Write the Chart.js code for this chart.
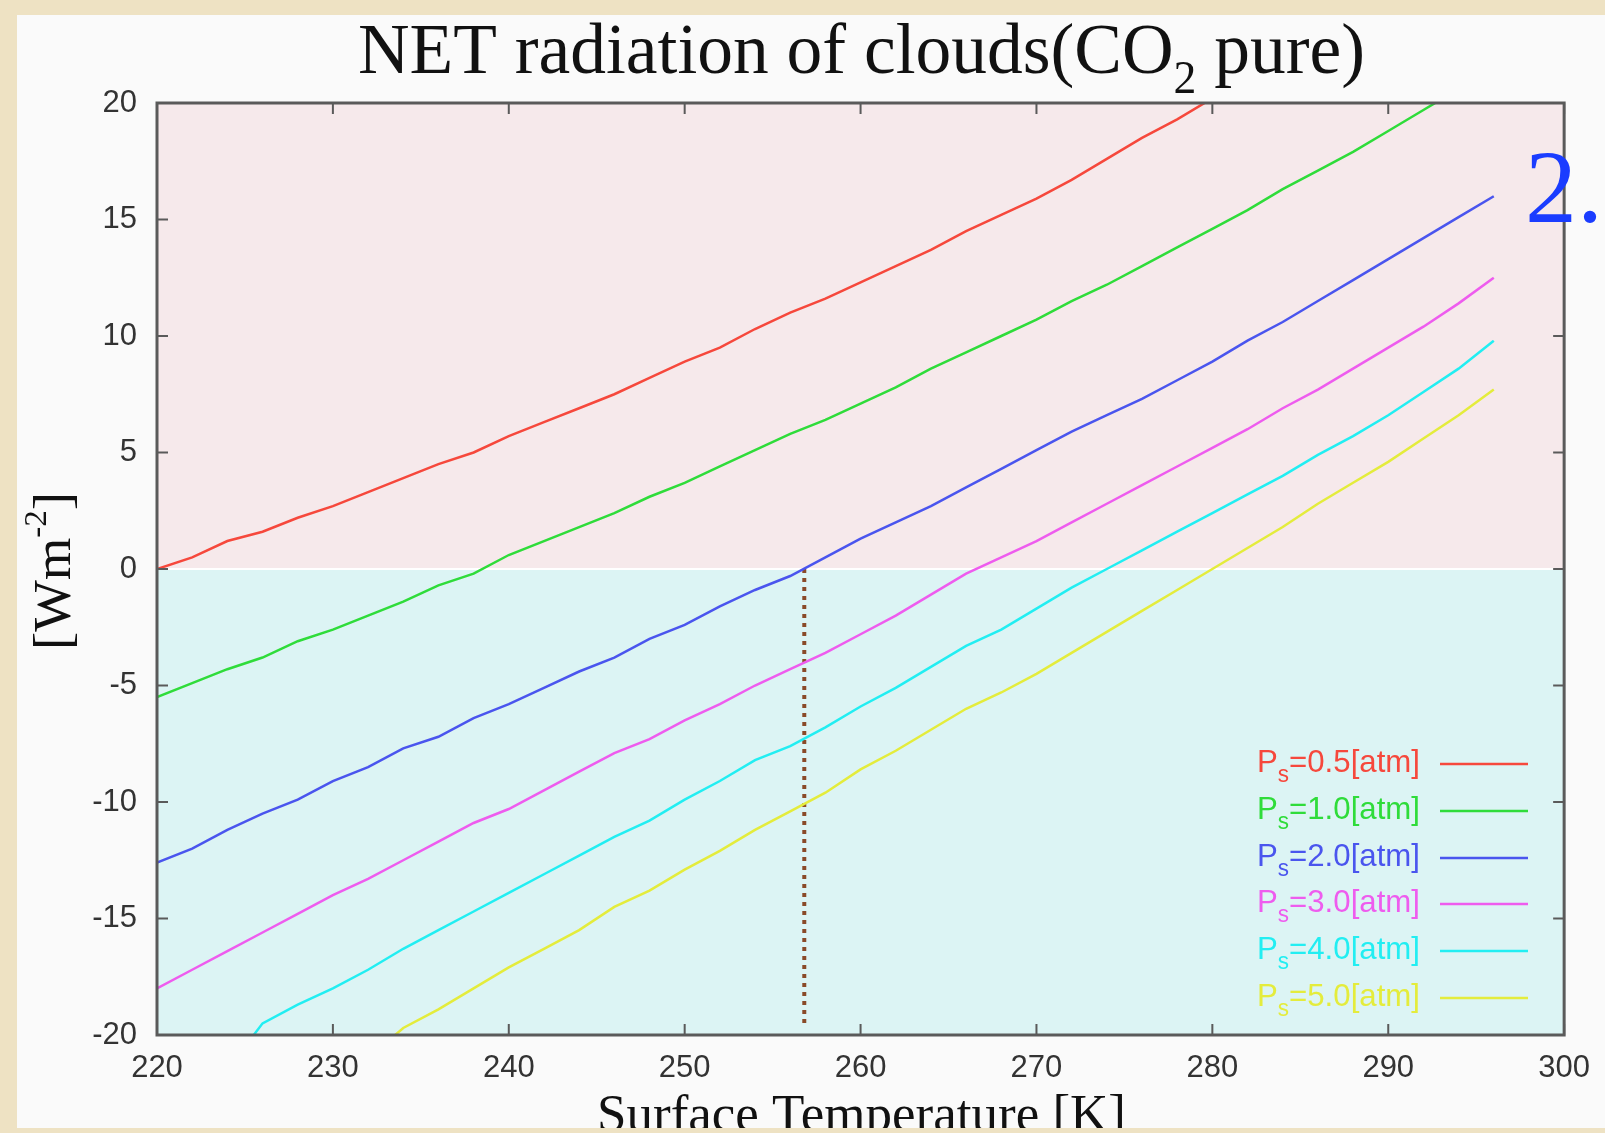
<!DOCTYPE html>
<html>
<head>
<meta charset="utf-8">
<script src="https://cdn.jsdelivr.net/npm/chart.js@4/dist/chart.umd.min.js"></script>
<style>
  html, body { margin: 0; padding: 0; }
  body { width: 1605px; height: 1133px; background: #eee2c3; position: relative; overflow: hidden; }
  #panel { position: absolute; left: 17px; top: 15px; width: 1588px; height: 1113px; background: #fafafa; }
  #c { position: absolute; left: 0; top: 0; }
</style>
</head>
<body>
<div id="panel"></div>
<canvas id="c" width="1605" height="1133"></canvas>
<script>
// surface temperature [K]
const temps = [220, 222, 224, 226, 228, 230, 232, 234, 236, 238, 240, 242, 244, 246, 248, 250, 252, 254, 256, 258,
               260, 262, 264, 266, 268, 270, 272, 274, 276, 278, 280, 282, 284, 286, 288, 290, 292, 294, 296];

// net radiation [W m-2], one list per surface pressure
const ps05 = [0.0, 0.5, 1.2, 1.6, 2.2, 2.7, 3.3, 3.9, 4.5, 5.0, 5.7, 6.3, 6.9, 7.5, 8.2, 8.9, 9.5, 10.3, 11.0, 11.6,
              12.3, 13.0, 13.7, 14.5, 15.2, 15.9, 16.7, 17.6, 18.5, 19.3, 20.2, 21.1, null, null, null, null, null, null, null];
const ps10 = [-5.5, -4.9, -4.3, -3.8, -3.1, -2.6, -2.0, -1.4, -0.7, -0.2, 0.6, 1.2, 1.8, 2.4, 3.1, 3.7, 4.4, 5.1, 5.8, 6.4,
              7.1, 7.8, 8.6, 9.3, 10.0, 10.7, 11.5, 12.2, 13.0, 13.8, 14.6, 15.4, 16.3, 17.1, 17.9, 18.8, 19.7, 20.6, null];
const ps20 = [-12.6, -12.0, -11.2, -10.5, -9.9, -9.1, -8.5, -7.7, -7.2, -6.4, -5.8, -5.1, -4.4, -3.8, -3.0, -2.4, -1.6, -0.9, -0.3, 0.5,
              1.3, 2.0, 2.7, 3.5, 4.3, 5.1, 5.9, 6.6, 7.3, 8.1, 8.9, 9.8, 10.6, 11.5, 12.4, 13.3, 14.2, 15.1, 16.0];
const ps30 = [-18.0, -17.2, -16.4, -15.6, -14.8, -14.0, -13.3, -12.5, -11.7, -10.9, -10.3, -9.5, -8.7, -7.9, -7.3, -6.5, -5.8, -5.0, -4.3, -3.6,
              -2.8, -2.0, -1.1, -0.2, 0.5, 1.2, 2.0, 2.8, 3.6, 4.4, 5.2, 6.0, 6.9, 7.7, 8.6, 9.5, 10.4, 11.4, 12.5];
const ps40 = [null, null, -21.5, -19.5, -18.7, -18.0, -17.2, -16.3, -15.5, -14.7, -13.9, -13.1, -12.3, -11.5, -10.8, -9.9, -9.1, -8.2, -7.6, -6.8,
              -5.9, -5.1, -4.2, -3.3, -2.6, -1.7, -0.8, 0.0, 0.8, 1.6, 2.4, 3.2, 4.0, 4.9, 5.7, 6.6, 7.6, 8.6, 9.8];
const ps50 = [null, null, null, null, null, null, -21.0, -19.7, -18.9, -18.0, -17.1, -16.3, -15.5, -14.5, -13.8, -12.9, -12.1, -11.2, -10.4, -9.6,
              -8.6, -7.8, -6.9, -6.0, -5.3, -4.5, -3.6, -2.7, -1.8, -0.9, 0.0, 0.9, 1.8, 2.8, 3.7, 4.6, 5.6, 6.6, 7.7];

const pressures = ['0.5', '1.0', '2.0', '3.0', '4.0', '5.0'];
const series = [ps05, ps10, ps20, ps30, ps40, ps50];
const colors = ['#f6483c', '#2fdc3a', '#4a55ee', '#ee5cee', '#22eef2', '#e4ec3c'];

// dotted marker where the 2.0 atm curve crosses zero
const markerX = [256.8, 256.8];
const markerY = [0, -19.5];

const xTicks = [220, 230, 240, 250, 260, 270, 280, 290, 300];
const yTicks = [-20, -15, -10, -5, 0, 5, 10, 15, 20];

const SANS = "'Liberation Sans', Arial, sans-serif";
const SERIF = "'Liberation Serif', 'Times New Roman', serif";

const datasets = series.map((s, i) => ({
  label: 'Ps=' + pressures[i] + '[atm]',
  data: temps.map((t, k) => ({ x: t, y: s[k] })),
  borderColor: colors[i],
  borderWidth: 2.5,
  pointRadius: 0,
  tension: 0,
  fill: false
}));
datasets.push({
  label: 'marker',
  data: markerX.map((x, k) => ({ x: x, y: markerY[k] })),
  borderColor: '#8a4a28',
  borderWidth: 4,
  borderDash: [4, 5],
  pointRadius: 0,
  fill: false
});

// draw runs of text with differing size/offset, squeezed to a target width
function drawRuns(ctx, runs, x, y, targetW, align) {
  let w = 0;
  runs.forEach(r => { ctx.font = r.font; r.w = ctx.measureText(r.t).width; w += r.w; });
  const sx = targetW ? targetW / w : 1;
  const total = w * sx;
  let startX = align === 'right' ? x - total : (align === 'center' ? x - total / 2 : x);
  ctx.save();
  ctx.translate(startX, y);
  ctx.scale(sx, 1);
  let cx = 0;
  runs.forEach(r => {
    ctx.font = r.font;
    ctx.fillStyle = r.color;
    ctx.textBaseline = 'alphabetic';
    ctx.textAlign = 'left';
    ctx.fillText(r.t, cx, r.dy || 0);
    cx += r.w;
  });
  ctx.restore();
}

const backdrop = {
  id: 'backdrop',
  beforeDatasetsDraw(chart) {
    const { ctx, chartArea: a, scales } = chart;
    const y0 = scales.y.getPixelForValue(0);
    ctx.save();
    ctx.fillStyle = '#f6e9eb';
    ctx.fillRect(a.left, a.top, a.right - a.left, y0 - a.top);
    ctx.fillStyle = '#dcf4f4';
    ctx.fillRect(a.left, y0, a.right - a.left, a.bottom - y0);
    ctx.strokeStyle = '#ffffff';
    ctx.lineWidth = 2;
    ctx.beginPath();
    ctx.moveTo(a.left, y0);
    ctx.lineTo(a.right, y0);
    ctx.stroke();
    ctx.restore();
  }
};

const decorations = {
  id: 'decorations',
  afterDraw(chart) {
    const { ctx, chartArea: a, scales } = chart;
    ctx.save();
    // frame with inward ticks on all sides
    ctx.strokeStyle = '#5a5a5a';
    ctx.lineWidth = 3;
    ctx.strokeRect(a.left, a.top, a.right - a.left, a.bottom - a.top);
    ctx.lineWidth = 2;
    ctx.beginPath();
    xTicks.forEach(v => {
      const px = scales.x.getPixelForValue(v);
      ctx.moveTo(px, a.bottom); ctx.lineTo(px, a.bottom - 11);
      ctx.moveTo(px, a.top); ctx.lineTo(px, a.top + 11);
    });
    yTicks.forEach(v => {
      const py = scales.y.getPixelForValue(v);
      ctx.moveTo(a.left, py); ctx.lineTo(a.left + 11, py);
      ctx.moveTo(a.right, py); ctx.lineTo(a.right - 11, py);
    });
    ctx.stroke();

    // title
    drawRuns(ctx, [
      { t: 'NET radiation of clouds(CO', font: '72px ' + SERIF, color: '#111' },
      { t: '2', font: '46px ' + SERIF, color: '#111', dy: 20 },
      { t: ' pure)', font: '72px ' + SERIF, color: '#111' }
    ], 358, 73, 1007, 'left');

    // y axis title, rotated
    ctx.save();
    ctx.translate(70, 650);
    ctx.rotate(-Math.PI / 2);
    drawRuns(ctx, [
      { t: '[Wm', font: '53px ' + SERIF, color: '#111' },
      { t: '-2', font: '32px ' + SERIF, color: '#111', dy: -24 },
      { t: ']', font: '53px ' + SERIF, color: '#111' }
    ], 0, 0, 158, 'left');
    ctx.restore();

    // x axis title, cut by the panel edge
    ctx.save();
    ctx.beginPath();
    ctx.rect(17, 15, 1588, 1113);
    ctx.clip();
    drawRuns(ctx, [{ t: 'Surface Temperature [K]', font: '53px ' + SERIF, color: '#111' }], 597, 1131, 529, 'left');
    ctx.restore();

    // legend
    const rowY = [764, 811, 858, 904, 951, 998];
    pressures.forEach((p, i) => {
      const y = rowY[i];
      drawRuns(ctx, [
        { t: 'P', font: '32px ' + SANS, color: colors[i] },
        { t: 's', font: '23px ' + SANS, color: colors[i], dy: 10 },
        { t: '=' + p + '[atm]', font: '32px ' + SANS, color: colors[i] }
      ], 1420, y + 8, 163, 'right');
      ctx.strokeStyle = colors[i];
      ctx.lineWidth = 2.5;
      ctx.beginPath();
      ctx.moveTo(1440, y);
      ctx.lineTo(1528, y);
      ctx.stroke();
    });

    // slide number
    ctx.font = '104px ' + SERIF;
    ctx.fillStyle = '#1a3cff';
    ctx.textAlign = 'left';
    ctx.textBaseline = 'alphabetic';
    ctx.fillText('2.', 1525, 222);
    ctx.restore();
  }
};

new Chart(document.getElementById('c'), {
  type: 'line',
  data: { datasets: datasets },
  plugins: [backdrop, decorations],
  options: {
    responsive: false,
    devicePixelRatio: 1,
    animation: false,
    layout: { padding: { left: 0, top: 103, right: 39, bottom: 38 } },
    plugins: { legend: { display: false }, title: { display: false }, tooltip: { enabled: false } },
    scales: {
      x: {
        type: 'linear', min: 220, max: 300,
        afterFit: s => { s.height = 60; },
        afterBuildTicks: s => { s.ticks = xTicks.map(v => ({ value: v })); },
        ticks: { color: '#333', font: { family: SANS, size: 31 }, padding: 15, maxRotation: 0 },
        grid: { display: false, drawTicks: false },
        border: { display: false }
      },
      y: {
        min: -20, max: 20,
        afterFit: s => { s.width = 157; },
        afterBuildTicks: s => { s.ticks = yTicks.map(v => ({ value: v })); },
        ticks: { color: '#333', font: { family: SANS, size: 31 }, padding: 20 },
        grid: { display: false, drawTicks: false },
        border: { display: false }
      }
    }
  }
});
</script>
</body>
</html>
